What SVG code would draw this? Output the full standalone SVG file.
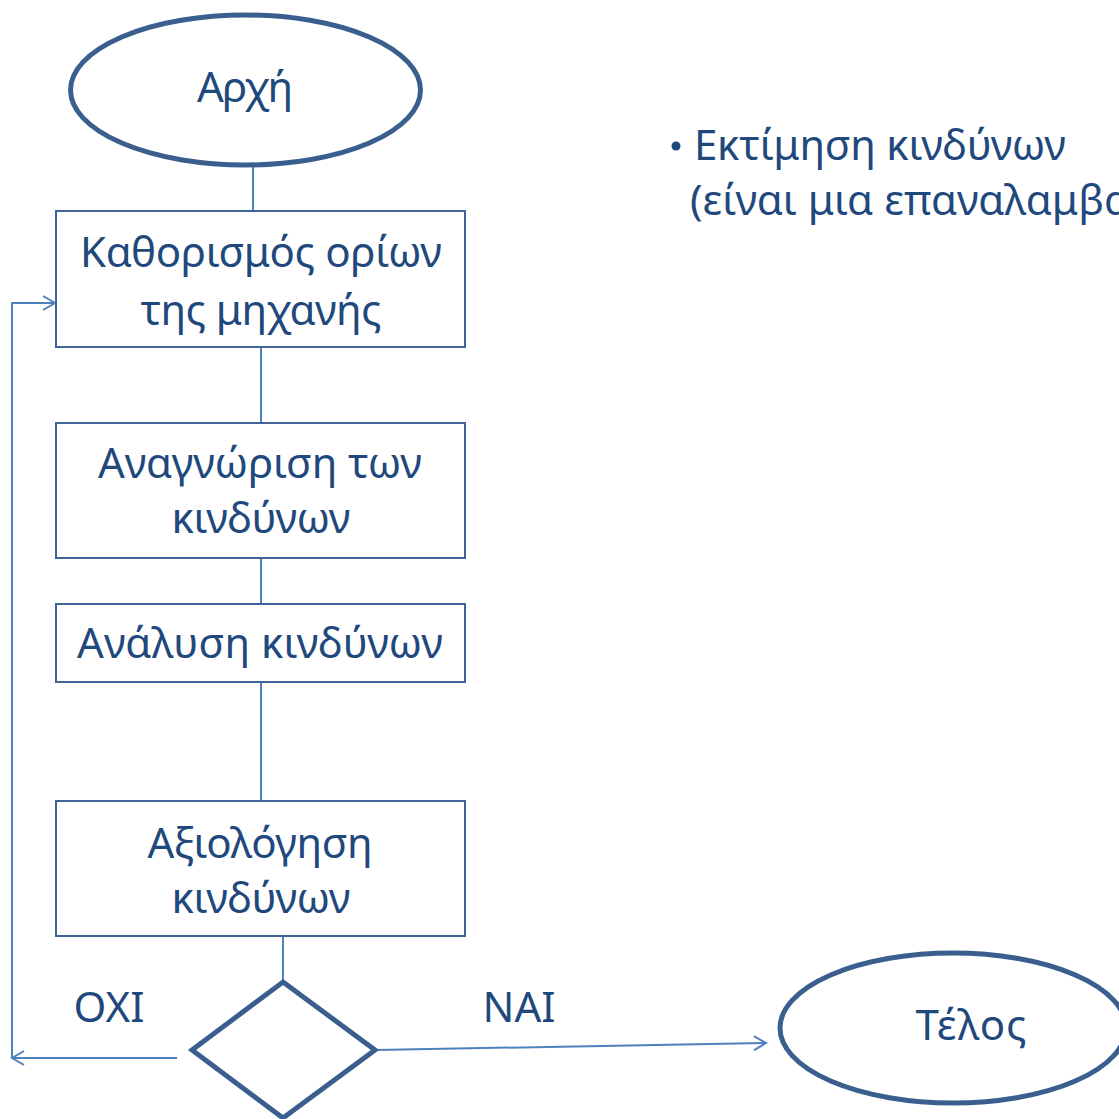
<svg xmlns="http://www.w3.org/2000/svg" width="1119" height="1119" viewBox="0 0 1119 1119">
<defs>
<style>
.t{font-family:"Noto Sans","Open Sans","DejaVu Sans",sans-serif;font-size:42px;fill:#1F497D}
.box{fill:#fff;stroke:#3F6497;stroke-width:2}
.thick{fill:#fff;stroke:#3A5F8E;stroke-width:5}
.c{fill:none;stroke:#4F81BD;stroke-width:2}
</style>
<marker id="arr" markerWidth="16" markerHeight="16" refX="14" refY="8" orient="auto" markerUnits="userSpaceOnUse">
<path d="M2,1 L14,8 L2,15" fill="none" stroke="#4F81BD" stroke-width="2"/>
</marker>
</defs>
<rect width="1119" height="1119" fill="#fff"/>
<g id="connectors">
<line class="c" x1="253" y1="166" x2="253" y2="211"/>
<line class="c" x1="261" y1="347" x2="261" y2="423"/>
<line class="c" x1="261" y1="558" x2="261" y2="604"/>
<line class="c" x1="261" y1="682" x2="261" y2="801"/>
<line class="c" x1="283" y1="936" x2="283" y2="982"/>
<line class="c" x1="177" y1="1058" x2="12" y2="1058" marker-end="url(#arr)"/>
<polyline class="c" points="12,1058 12,303 55,303" marker-end="url(#arr)"/>
<line class="c" x1="376" y1="1050" x2="766" y2="1043" marker-end="url(#arr)"/>
</g>
<g id="start">
<ellipse class="thick" cx="245.5" cy="90" rx="175" ry="75"/>
<text class="t" x="245" y="102" text-anchor="middle" textLength="96">Αρχή</text>
</g>
<g id="box1">
<rect class="box" x="56" y="211" width="409" height="136"/>
<text class="t" x="261" y="267" text-anchor="middle" textLength="362">Καθορισμός ορίων</text>
<text class="t" x="261" y="325" text-anchor="middle" textLength="241">της μηχανής</text>
</g>
<g id="box2">
<rect class="box" x="56" y="423" width="409" height="135"/>
<text class="t" x="260" y="478" text-anchor="middle" textLength="324">Αναγνώριση των</text>
<text class="t" x="261" y="533" text-anchor="middle" textLength="179">κινδύνων</text>
</g>
<g id="box3">
<rect class="box" x="56" y="604" width="409" height="78"/>
<text class="t" x="260" y="658" text-anchor="middle" textLength="366">Ανάλυση κινδύνων</text>
</g>
<g id="box4">
<rect class="box" x="56" y="801" width="409" height="135"/>
<text class="t" x="260" y="858" text-anchor="middle" textLength="225">Αξιολόγηση</text>
<text class="t" x="261" y="913" text-anchor="middle" textLength="179">κινδύνων</text>
</g>
<g id="decision">
<polygon class="thick" points="283,982 375,1050 283,1118 192,1050"/>
</g>
<g id="end">
<ellipse class="thick" cx="953" cy="1028" rx="173" ry="75"/>
<text class="t" x="971" y="1040" text-anchor="middle" textLength="111">Τέλος</text>
</g>
<g id="labels">
<text class="t" x="109" y="1022" text-anchor="middle">ΟΧΙ</text>
<text class="t" x="519" y="1022" text-anchor="middle">ΝΑΙ</text>
</g>
<g id="note">
<circle cx="676" cy="146" r="4.5" fill="#1F497D"/>
<text class="t" x="694" y="160" textLength="372">Εκτίμηση κινδύνων</text>
<text class="t" x="690" y="215">(είναι μια επαναλαμβανόμενη διαδικασία)</text>
</g>
</svg>
